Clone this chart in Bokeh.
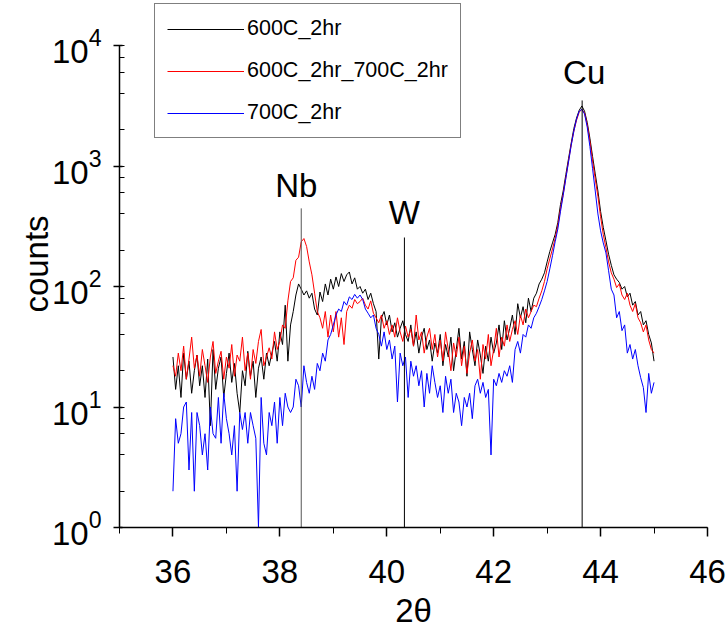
import numpy as np
from bokeh.plotting import figure
from bokeh.models import (Range1d, ColumnDataSource, Legend, LegendItem,
                          SingleIntervalTicker, LogTicker)
from bokeh.core.properties import value
from bokeh.embed import file_html
from bokeh.resources import INLINE

# ---- data -------------------------------------------------------------
two_theta_start = 36.0
two_theta_step = 0.05

series_names = ["600C_2hr", "600C_2hr_700C_2hr", "700C_2hr"]
series_colors = ["black", "#ff0000", "#0000ff"]

black_600 = [
    26, 14, 22, 12, 28, 17, 24, 13, 20, 27, 15, 22, 12, 25, 7, 30, 14, 21, 26, 12,
    19, 28, 16, 23, 13, 9, 20, 15, 29, 18, 24, 12, 21, 26, 17, 28, 22, 28, 35, 24,
    42, 33, 70, 24, 48, 62, 85, 105, 95, 85, 92, 80, 88, 65, 58, 90, 75, 105, 85, 115,
    95, 120, 100, 128, 110, 125, 132, 105, 118, 95, 100, 88, 95, 78, 88, 72, 62, 25, 55, 62,
    48, 58, 42, 50, 38, 45, 52, 40, 35, 48, 32, 42, 28, 38, 45, 30, 36, 24, 34, 28,
    40, 22, 33, 26, 38, 20, 30, 45, 25, 35, 18, 42, 30, 22, 36, 27, 19, 32, 24, 38,
    28, 34, 48, 30, 52, 36, 45, 58, 40, 72, 55, 68, 50, 80, 62, 80, 88, 105, 115, 130,
    160, 195, 230, 270, 340, 480, 620, 850, 1150, 1550, 2050, 2500, 2900, 3150, 2850, 2300, 1700, 1200, 860, 620,
    420, 310, 240, 185, 150, 125, 115, 108, 95, 100, 82, 88, 70, 75, 58, 62, 48, 52, 40, 34,
    24]

red_600_700 = [
    22, 18, 28, 20, 32, 17, 25, 38, 21, 27, 18, 30, 22, 16, 26, 35, 19, 24, 29, 17,
    26, 21, 33, 18, 27, 24, 38, 20, 28, 17, 30, 23, 35, 44, 22, 26, 31, 25, 42, 30,
    35, 48, 45, 76, 110, 118, 165, 175, 235, 250, 215, 160, 125, 88, 62, 55, 45, 62, 38, 58,
    42, 62, 38, 55, 33, 62, 70, 66, 78, 72, 75, 80, 70, 65, 76, 60, 55, 50, 58, 45,
    52, 40, 48, 38, 55, 42, 35, 47, 38, 44, 32, 58, 36, 42, 28, 38, 45, 30, 40, 26,
    36, 24, 42, 30, 20, 34, 26, 38, 22, 32, 19, 28, 36, 24, 30, 17, 33, 25, 40, 22,
    30, 45, 26, 38, 32, 48, 35, 44, 52, 40, 58, 48, 65, 55, 62, 70, 68, 80, 92, 110,
    140, 170, 205, 250, 320, 440, 580, 800, 1100, 1500, 1950, 2400, 2800, 2950, 2750, 2200, 1600, 1100, 780, 560,
    380, 270, 210, 160, 130, 115, 98, 105, 85, 78, 88, 70, 62, 72, 55, 50, 42, 48, 36, 30,
    28]

blue_700 = [
    2, 8, 5, 6, 10, 11, 3, 9, 2, 9, 7, 4, 6, 3, 10, 6, 5.5, 12, 5, 13,
    8, 6, 4, 7, 2, 9, 6.5, 9, 5, 9, 7, 5.5, 1, 12, 5, 4, 9, 7, 11, 5,
    12, 7, 13, 10, 9, 10, 17, 15, 10, 22, 16, 13, 18, 14, 23, 20, 28, 24, 36, 40,
    48, 58, 65, 62, 75, 70, 82, 78, 86, 80, 85, 78, 65, 60, 55, 58, 45, 40, 32, 42,
    30, 36, 25, 32, 11, 28, 22, 26, 12, 24, 18, 22, 15, 20, 10, 19, 13, 22, 16, 12,
    15, 9, 18, 13, 17, 9, 13, 11, 7, 12, 10, 13, 8, 15, 17, 13, 16, 12, 14, 4,
    17, 15, 19, 16, 20, 18, 22, 16, 30, 35, 28, 40, 38, 48, 45, 55, 60, 68, 78, 92,
    110, 140, 180, 235, 300, 420, 570, 790, 1080, 1480, 1950, 2450, 2850, 2950, 2700, 2100, 1450, 950, 620, 400,
    290, 230, 190, 135, 95, 85, 55, 62, 43, 48, 28, 33, 25, 30, 22, 17.5, 14.5, 9, 19, 13,
    16]

peak_names = ["Nb", "W", "Cu"]
peak_pos = [38.40, 40.33, 43.655]
peak_top = [445, 255, 3500]

x_ticks_major = 2
x_start, x_end = 35, 46
y_start, y_end = 1, 10000

# ---- figure -------------------------------------------------------------
FONT = "Liberation Sans"
W, H = 727, 632
frame_left, frame_right = 119, 707
frame_bottom = 527
top_pad_px = 45
decade_px = (frame_bottom - top_pad_px) / 4.0

p = figure(width=W, height=H, output_backend="svg", toolbar_location=None,
           title=None, y_axis_type="log",
           x_range=Range1d(x_start, x_end),
           y_range=Range1d(y_start, 10 ** (4 + top_pad_px / decade_px)),
           min_border_left=frame_left, min_border_right=W - frame_right,
           min_border_top=0, min_border_bottom=H - frame_bottom)
p.outline_line_color = None
p.xgrid.visible = False
p.ygrid.visible = False
p.background_fill_color = "white"
p.border_fill_color = "white"

n = len(black_600)
two_theta = [round(two_theta_start + two_theta_step * i, 2) for i in range(n)]

renderers = []
for vals, col in zip([black_600, red_600_700, blue_700], series_colors):
    src = ColumnDataSource(dict(x=two_theta, y=vals))
    r = p.line("x", "y", source=src, line_color=col, line_width=1)
    renderers.append(r)

# reference lines
psrc = ColumnDataSource(dict(x=peak_pos, y0=[y_start] * 3, y1=peak_top, name=peak_names,
                             col=["#555555", "black", "black"],
                             xo=[-5, 0, 2], yo=[-23, -25, -28]))
p.segment(x0="x", y0="y0", x1="x", y1="y1", source=psrc, line_color="col", line_width=1)
p.text(x="x", y="y1", text="name", source=psrc, x_offset="xo", y_offset="yo",
       text_font=value(FONT), text_font_size="33px", text_align="center",
       text_baseline="alphabetic", text_color="black")

# axes
xa = p.xaxis[0]
xa.ticker = SingleIntervalTicker(interval=x_ticks_major, num_minor_ticks=2)
xa.bounds = (x_start, x_end)
xa.axis_label = "2θ"
ya = p.yaxis[0]
ya.ticker = LogTicker()
ya.bounds = (y_start, y_end)
ya.axis_label = "counts"

for ax in (xa, ya):
    ax.axis_line_color = "black"
    ax.axis_line_width = 1.5
    ax.major_tick_line_color = "black"
    ax.minor_tick_line_color = "black"
    ax.major_tick_line_width = 1.5
    ax.minor_tick_line_width = 1
    ax.major_label_text_font = FONT
    ax.major_label_text_font_size = "33px"
    ax.major_label_text_color = "black"
    ax.axis_label_text_font = FONT
    ax.axis_label_text_font_size = "33px"
    ax.axis_label_text_font_style = "normal"
    ax.axis_label_text_color = "black"

xa.major_tick_in = 0
xa.major_tick_out = 9
xa.minor_tick_in = 0
xa.minor_tick_out = 6
xa.major_label_standoff = 23
xa.axis_label_standoff = 6

ya.major_tick_in = 3
ya.major_tick_out = 6
ya.minor_tick_in = 5
ya.minor_tick_out = 0
ya.major_label_standoff = 12
ya.axis_label_standoff = -6

# legend (built from the real data renderers)
items = [LegendItem(label=nm, renderers=[r]) for nm, r in zip(series_names, renderers)]
legend = Legend(items=items, location=(154 - frame_left, 389),
                orientation="vertical",
                label_text_font=FONT, label_text_font_size="21.5px",
                label_text_color="black",
                glyph_width=77, glyph_height=24, label_height=24,
                label_standoff=3, spacing=17, padding=12, margin=0,
                border_line_color="black", border_line_width=1,
                background_fill_color="white", background_fill_alpha=1.0)
p.add_layout(legend, "center")

open("out.html", "w").write(file_html(p, INLINE))
